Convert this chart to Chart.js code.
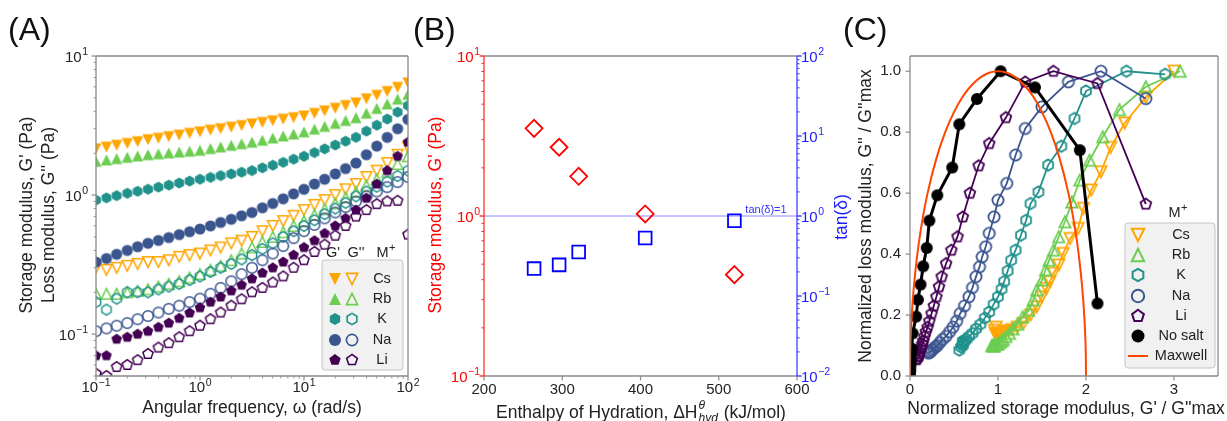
<!DOCTYPE html>
<html>
<head>
<meta charset="utf-8">
<script src="https://cdn.jsdelivr.net/npm/chart.js@4.4.0/dist/chart.umd.min.js"></script>
<style>
  html, body { margin: 0; padding: 0; background: #fff; }
  #wrap { position: relative; width: 1227px; height: 421px; overflow: hidden; }
  #wrap canvas { position: absolute; left: 0; top: 0; }
</style>
</head>
<body>
<div id="wrap">
  <canvas id="chartA" width="1227" height="421"></canvas>
  <canvas id="chartB" width="1227" height="421"></canvas>
  <canvas id="chartC" width="1227" height="421"></canvas>
</div>
<script>
var FONT = '"Liberation Sans", Arial, Helvetica, sans-serif';
Chart.defaults.font.family = FONT;
Chart.defaults.font.size = 15;
Chart.defaults.color = '#222';

// ---------- Panel A: frequency sweep (rad/s) and moduli (Pa) ----------
var omega = [0.1, 0.126, 0.158, 0.2, 0.251, 0.316, 0.398, 0.501, 0.631, 0.794, 1, 1.26, 1.58, 2, 2.51, 3.16, 3.98, 5.01, 6.31, 7.94, 10, 12.6, 15.8, 20, 25.1, 31.6, 39.8, 50.1, 63.1, 79.4, 100];

var csStorage = [2.15, 2.21, 2.28, 2.35, 2.42, 2.5, 2.56, 2.63, 2.7, 2.78, 2.85, 2.93, 3.0, 3.08, 3.16, 3.25, 3.33, 3.42, 3.51, 3.6, 3.7, 3.86, 4.03, 4.21, 4.4, 4.6, 4.92, 5.22, 5.55, 5.95, 6.4];
var rbStorage = [1.75, 1.79, 1.83, 1.87, 1.91, 1.95, 1.98, 2.01, 2.04, 2.07, 2.1, 2.16, 2.22, 2.28, 2.34, 2.4, 2.48, 2.57, 2.66, 2.75, 2.85, 2.98, 3.12, 3.28, 3.44, 3.6, 3.88, 4.2, 4.52, 4.9, 5.3];
var kStorage  = [0.92, 0.955, 0.99, 1.03, 1.065, 1.1, 1.14, 1.18, 1.22, 1.26, 1.3, 1.34, 1.38, 1.42, 1.46, 1.5, 1.57, 1.64, 1.72, 1.81, 1.9, 2.02, 2.15, 2.29, 2.44, 2.6, 2.88, 3.18, 3.52, 3.95, 4.4];
var naStorage = [0.33, 0.35, 0.375, 0.4, 0.425, 0.45, 0.472, 0.495, 0.52, 0.545, 0.57, 0.6, 0.635, 0.67, 0.71, 0.75, 0.81, 0.87, 0.94, 1.02, 1.1, 1.2, 1.3, 1.42, 1.55, 1.7, 1.95, 2.25, 2.6, 3.0, 3.5];
var liStorage = [0.07, 0.07, 0.092, 0.095, 0.1, 0.105, 0.112, 0.12, 0.13, 0.142, 0.155, 0.17, 0.185, 0.205, 0.225, 0.25, 0.275, 0.3, 0.33, 0.37, 0.42, 0.47, 0.53, 0.6, 0.68, 0.78, 0.95, 1.2, 1.5, 1.9, 2.4];

var csLoss = [0.30, 0.29, 0.30, 0.31, 0.32, 0.33, 0.33, 0.34, 0.36, 0.37, 0.38, 0.40, 0.42, 0.45, 0.47, 0.50, 0.55, 0.60, 0.65, 0.71, 0.78, 0.85, 0.92, 1.0, 1.1, 1.2, 1.35, 1.5, 1.7, 1.95, 2.2];
var rbLoss = [0.195, 0.195, 0.195, 0.2, 0.205, 0.21, 0.22, 0.23, 0.24, 0.255, 0.27, 0.29, 0.31, 0.34, 0.38, 0.42, 0.46, 0.5, 0.54, 0.6, 0.65, 0.72, 0.79, 0.87, 0.96, 1.05, 1.17, 1.3, 1.47, 1.67, 1.9];
var kLoss  = [0.17, 0.15, 0.18, 0.2, 0.2, 0.2, 0.21, 0.22, 0.23, 0.245, 0.26, 0.28, 0.3, 0.32, 0.345, 0.37, 0.41, 0.45, 0.5, 0.55, 0.6, 0.66, 0.73, 0.8, 0.88, 0.98, 1.06, 1.15, 1.25, 1.37, 1.5];
var naLoss = [0.105, 0.11, 0.115, 0.12, 0.128, 0.135, 0.143, 0.152, 0.16, 0.17, 0.18, 0.195, 0.215, 0.24, 0.27, 0.3, 0.34, 0.38, 0.43, 0.49, 0.55, 0.61, 0.68, 0.75, 0.82, 0.9, 0.98, 1.06, 1.14, 1.24, 1.35];
var liLoss = [0.052, 0.05, 0.058, 0.06, 0.065, 0.072, 0.08, 0.086, 0.095, 0.105, 0.115, 0.128, 0.143, 0.16, 0.178, 0.2, 0.215, 0.235, 0.26, 0.3, 0.34, 0.39, 0.44, 0.51, 0.6, 0.7, 0.78, 0.86, 0.9, 0.91, 0.52];

// ---------- Panel B: hydration enthalpy (kJ/mol) ----------
var hydEnthalpy = [264, 296, 321, 406, 520];        // Cs, Rb, K, Na, Li
var storageModulus = [3.53, 2.69, 1.77, 1.03, 0.43];
var tanDelta = [0.22, 0.245, 0.355, 0.53, 0.87];
var tanOneX = [200, 600];
var tanOneY = [1, 1];

// ---------- Panel C: normalized G' / G''max and G'' / G''max ----------
var csNormX = [0.98, 0.96, 0.97, 0.98, 0.99, 1.0, 1.02, 1.04, 1.06, 1.09, 1.12, 1.16, 1.22, 1.29, 1.37, 1.44, 1.50, 1.55, 1.59, 1.63, 1.69, 1.74, 1.82, 1.91, 1.97, 2.06, 2.17, 2.28, 2.44, 2.68, 3.0];
var csNormY = [0.16, 0.15, 0.14, 0.135, 0.135, 0.14, 0.14, 0.14, 0.145, 0.145, 0.148, 0.152, 0.16, 0.173, 0.2, 0.227, 0.26, 0.287, 0.31, 0.337, 0.364, 0.402, 0.451, 0.484, 0.55, 0.61, 0.67, 0.75, 0.83, 0.915, 1.0];
var rbNormX = [0.93, 0.94, 0.95, 0.95, 0.96, 0.98, 1.0, 1.02, 1.04, 1.06, 1.09, 1.13, 1.17, 1.22, 1.28, 1.35, 1.40, 1.44, 1.50, 1.54, 1.58, 1.63, 1.69, 1.76, 1.84, 1.93, 2.04, 2.19, 2.38, 2.68, 3.07];
var rbNormY = [0.1, 0.1, 0.1, 0.1, 0.1, 0.105, 0.105, 0.11, 0.115, 0.12, 0.13, 0.14, 0.155, 0.17, 0.194, 0.216, 0.25, 0.282, 0.315, 0.348, 0.38, 0.413, 0.457, 0.506, 0.571, 0.643, 0.708, 0.785, 0.874, 0.949, 1.0];
var kNormX = [0.6, 0.56, 0.58, 0.6, 0.6, 0.61, 0.62, 0.64, 0.67, 0.71, 0.75, 0.8, 0.85, 0.9, 0.95, 1.0, 1.04, 1.07, 1.11, 1.15, 1.2, 1.26, 1.32, 1.37, 1.46, 1.57, 1.72, 1.87, 2.0, 2.46, 2.9];
var kNormY = [0.115, 0.085, 0.095, 0.1, 0.105, 0.11, 0.115, 0.12, 0.13, 0.14, 0.155, 0.17, 0.19, 0.21, 0.235, 0.26, 0.285, 0.31, 0.345, 0.38, 0.413, 0.462, 0.511, 0.566, 0.604, 0.692, 0.754, 0.845, 0.935, 1.0, 0.99];
var naNormX = [0.21, 0.22, 0.235, 0.25, 0.27, 0.29, 0.31, 0.34, 0.37, 0.41, 0.45, 0.49, 0.53, 0.57, 0.62, 0.67, 0.71, 0.75, 0.79, 0.82, 0.86, 0.90, 0.955, 1.0, 1.10, 1.20, 1.31, 1.50, 1.80, 2.17, 2.68];
var naNormY = [0.075, 0.078, 0.08, 0.085, 0.09, 0.095, 0.1, 0.11, 0.12, 0.13, 0.145, 0.16, 0.18, 0.205, 0.23, 0.26, 0.29, 0.326, 0.358, 0.391, 0.424, 0.468, 0.522, 0.577, 0.632, 0.725, 0.812, 0.883, 0.965, 1.0, 0.91];
var liNormX = [0.075, 0.075, 0.098, 0.1, 0.105, 0.11, 0.12, 0.13, 0.14, 0.15, 0.165, 0.18, 0.2, 0.22, 0.245, 0.27, 0.30, 0.33, 0.36, 0.41, 0.47, 0.54, 0.60, 0.68, 0.78, 0.90, 1.09, 1.31, 1.63, 2.13, 2.68];
var liNormY = [0.056, 0.054, 0.063, 0.066, 0.072, 0.08, 0.088, 0.095, 0.105, 0.115, 0.13, 0.145, 0.16, 0.18, 0.205, 0.23, 0.26, 0.293, 0.326, 0.369, 0.413, 0.457, 0.522, 0.60, 0.69, 0.763, 0.848, 0.965, 1.0, 0.96, 0.564];
var noSaltX = [0.0, 0.0, 0.003, 0.005, 0.008, 0.01, 0.02, 0.03, 0.07, 0.09, 0.12, 0.15, 0.19, 0.22, 0.31, 0.48, 0.56, 0.76, 1.03, 1.42, 1.93, 2.13];
var noSaltY = [0.0, 0.01, 0.02, 0.035, 0.05, 0.07, 0.09, 0.14, 0.195, 0.25, 0.30, 0.36, 0.42, 0.51, 0.593, 0.684, 0.826, 0.909, 1.0, 0.947, 0.741, 0.238];
var maxwellX = [0, 0.002, 0.01, 0.03, 0.06, 0.1, 0.15, 0.2, 0.3, 0.4, 0.5, 0.6, 0.7, 0.8, 0.9, 1.0, 1.1, 1.2, 1.3, 1.4, 1.5, 1.6, 1.7, 1.8, 1.85, 1.9, 1.94, 1.97, 1.99, 1.998, 2.0];
var maxwellY = [0, 0.063, 0.141, 0.243, 0.341, 0.436, 0.527, 0.6, 0.714, 0.8, 0.866, 0.917, 0.954, 0.98, 0.995, 1.0, 0.995, 0.98, 0.954, 0.917, 0.866, 0.8, 0.714, 0.6, 0.527, 0.436, 0.341, 0.243, 0.141, 0.063, 0];

// categories and tick labels
var salts = ['Cs', 'Rb', 'K', 'Na', 'Li'];
var decadeValues = [0.01, 0.1, 1, 10, 100];
var decadeLabels = ['10^-2', '10^-1', '10^0', '10^1', '10^2'];
var decadeExps = ['\u22122', '\u22121', '0', '1', '2'];
var cXTicks = ['0', '1', '2', '3'];
var cYTicks = ['0.0', '0.2', '0.4', '0.6', '0.8', '1.0'];

// styles
var saltColors = ['#ffa500', '#6ccd50', '#21918c', '#3b558f', '#440154'];
var saltShapes = ['triDown', 'triUp', 'hex', 'circle', 'pent'];
var frameGray = '#8a8a8a';
var clear = 'rgba(0,0,0,0)';

function decadeIndex(v) {
  for (var i = 0; i < decadeValues.length; i++) {
    if (Math.abs(v / decadeValues[i] - 1) < 1e-6) return i;
  }
  return -1;
}
function decadeTick(v) {
  var i = decadeIndex(v);
  return i < 0 ? '' : decadeLabels[i];
}

function logTicks(scale) {
  var out = [];
  for (var e = Math.floor(Math.log10(scale.min)); e <= Math.ceil(Math.log10(scale.max)); e++) {
    for (var m = 1; m <= 9; m++) {
      var v = +(m * Math.pow(10, e)).toPrecision(6);
      if (v >= scale.min * 0.9999 && v <= scale.max * 1.0001) out.push({ value: v });
    }
  }
  scale.ticks = out;
}

function shapePath(g, shape, x, y, r) {
  g.beginPath();
  if (shape === 'circle') { g.arc(x, y, r, 0, Math.PI * 2); return; }
  if (shape === 'triDown') { g.moveTo(x, y + r); g.lineTo(x - r, y - r); g.lineTo(x + r, y - r); g.closePath(); return; }
  if (shape === 'triUp') { g.moveTo(x, y - r); g.lineTo(x - r, y + r); g.lineTo(x + r, y + r); g.closePath(); return; }
  var n = shape === 'hex' ? 6 : 5;
  for (var k = 0; k < n; k++) {
    var a = -Math.PI / 2 + k * 2 * Math.PI / n;
    var px = x + r * Math.cos(a), py = y + r * Math.sin(a);
    if (k) g.lineTo(px, py); else g.moveTo(px, py);
  }
  g.closePath();
}

function drawMarker(g, shape, x, y, r, color, filled, lw) {
  shapePath(g, shape, x, y, r);
  if (filled) { g.fillStyle = color; g.fill(); }
  else { g.strokeStyle = color; g.lineWidth = lw; g.stroke(); }
}

function markerImg(shape, r, color, filled, lw) {
  var s = Math.ceil(2 * r + (lw || 1) + 4);
  if (s % 2) s++;
  var c = document.createElement('canvas');
  c.width = c.height = s;
  drawMarker(c.getContext('2d'), shape, s / 2, s / 2, r, color, filled, lw);
  return c;
}

function roundBox(g, x, y, w, h, rad, fill, stroke) {
  g.beginPath();
  g.moveTo(x + rad, y);
  g.arcTo(x + w, y, x + w, y + h, rad);
  g.arcTo(x + w, y + h, x, y + h, rad);
  g.arcTo(x, y + h, x, y, rad);
  g.arcTo(x, y, x + w, y, rad);
  g.closePath();
  g.fillStyle = fill; g.fill();
  g.strokeStyle = stroke; g.lineWidth = 1; g.stroke();
}

function rotText(g, text, x, y, color, font) {
  g.save();
  g.translate(x, y);
  g.rotate(-Math.PI / 2);
  g.font = font; g.fillStyle = color;
  g.textAlign = 'center'; g.textBaseline = 'middle';
  g.fillText(text, 0, 0);
  g.restore();
}

function plainText(g, text, x, y, color, font, align) {
  g.font = font; g.fillStyle = color;
  g.textAlign = align || 'center'; g.textBaseline = 'alphabetic';
  g.fillText(text, x, y);
}

// base text followed by a raised smaller part, e.g. 10 with exponent
function supText(g, base, sup, x, y, align, color, size, supSize, rise) {
  g.font = size + 'px ' + FONT;
  var w1 = g.measureText(base).width;
  g.font = supSize + 'px ' + FONT;
  var w2 = g.measureText(sup).width;
  var total = w1 + w2 + 0.5;
  var x0 = align === 'right' ? x - total : (align === 'left' ? x : x - total / 2);
  g.fillStyle = color; g.textAlign = 'left'; g.textBaseline = 'alphabetic';
  g.font = size + 'px ' + FONT; g.fillText(base, x0, y);
  g.font = supSize + 'px ' + FONT; g.fillText(sup, x0 + w1 + 0.5, y - rise);
}

// plugins
function tickMarks(axes) {
  return {
    id: 'tickMarks',
    afterDatasetsDraw: function (chart) {
      var g = chart.ctx;
      axes.forEach(function (a) {
        var sc = chart.scales[a.id];
        g.save();
        sc.ticks.forEach(function (t) {
          var major = t.label !== '' && t.label != null;
          if (!major && !a.minor) return;
          var len = major ? 4.5 : 2.5;
          g.strokeStyle = a.color;
          g.lineWidth = major ? 1.2 : 0.9;
          var p = sc.getPixelForValue(t.value);
          g.beginPath();
          if (sc.position === 'bottom') { g.moveTo(p, sc.top); g.lineTo(p, sc.top + len); }
          else if (sc.position === 'left') { g.moveTo(sc.right, p); g.lineTo(sc.right - len, p); }
          else { g.moveTo(sc.left, p); g.lineTo(sc.left + len, p); }
          g.stroke();
          if (major && a.sup) {
            var exp = decadeExps[decadeIndex(t.value)];
            if (sc.position === 'bottom') supText(g, '10', exp, p, sc.top + 16, 'center', a.textColor, 15, 10.5, 6.5);
            else if (sc.position === 'left') supText(g, '10', exp, sc.right - a.gap, p + 5.5, 'right', a.textColor, 15, 10.5, 6.5);
            else supText(g, '10', exp, sc.left + a.gap, p + 5.5, 'left', a.textColor, 15, 10.5, 6.5);
          }
        });
        g.restore();
      });
    }
  };
}

function frame(c) {
  return {
    id: 'frame',
    afterDatasetsDraw: function (chart) {
      var a = chart.chartArea, g = chart.ctx;
      g.save();
      g.lineWidth = 1.3;
      function seg(col, x1, y1, x2, y2) { g.strokeStyle = col; g.beginPath(); g.moveTo(x1, y1); g.lineTo(x2, y2); g.stroke(); }
      seg(c.top, a.left, a.top, a.right, a.top);
      seg(c.bottom, a.left, a.bottom, a.right, a.bottom);
      seg(c.left, a.left, a.top, a.left, a.bottom);
      seg(c.right, a.right, a.top, a.right, a.bottom);
      g.restore();
    }
  };
}

function overlay(fn) {
  return { id: 'overlay', afterDraw: function (chart) { var g = chart.ctx; g.save(); fn(g, chart); g.restore(); } };
}

function pts(xs, ys) {
  return xs.map(function (x, i) { return { x: x, y: ys[i] }; });
}

function axisBase(extra) {
  var o = {
    grid: { display: false, drawTicks: false },
    border: { display: false },
    ticks: { autoSkip: false, maxRotation: 0, minRotation: 0, color: '#222', font: { size: 15 } }
  };
  for (var k in extra) {
    if (k === 'ticks') { for (var t in extra.ticks) o.ticks[t] = extra.ticks[t]; }
    else o[k] = extra[k];
  }
  return o;
}

function baseOptions(padding, scales) {
  return {
    animation: false, responsive: false, events: [],
    layout: { padding: padding },
    plugins: { legend: { display: false }, tooltip: { enabled: false } },
    scales: scales
  };
}

// ================= Chart A =================
var storageSets = [csStorage, rbStorage, kStorage, naStorage, liStorage];
var lossSets = [csLoss, rbLoss, kLoss, naLoss, liLoss];
var aDatasets = [];
for (var k = salts.length - 1; k >= 0; k--) {
  aDatasets.push({ label: salts[k] + " G''", data: pts(omega, lossSets[k]), pointStyle: markerImg(saltShapes[k], 5.3, saltColors[k], false, 1.5), pointRadius: 5, showLine: false });
  aDatasets.push({ label: salts[k] + " G'", data: pts(omega, storageSets[k]), pointStyle: markerImg(saltShapes[k], 5.6, saltColors[k], true), pointRadius: 5, showLine: false });
}

new Chart(document.getElementById('chartA'), {
  type: 'scatter',
  data: { datasets: aDatasets },
  options: baseOptions({ left: 0, top: 56, right: 819, bottom: 0 }, {
    x: axisBase({ type: 'logarithmic', min: 0.1, max: 100, afterBuildTicks: logTicks,
      ticks: { padding: 3, color: clear, callback: decadeTick },
      afterFit: function (s) { s.height = 45; s.paddingLeft = 0; s.paddingRight = 0; } }),
    y: axisBase({ type: 'logarithmic', min: 0.05, max: 10, afterBuildTicks: logTicks,
      ticks: { padding: 8, color: clear, callback: decadeTick },
      afterFit: function (s) { s.width = 96; s.paddingTop = 0; s.paddingBottom = 0; } })
  }),
  plugins: [
    tickMarks([{ id: 'x', color: frameGray, minor: true, sup: true, textColor: '#222' },
               { id: 'y', color: frameGray, minor: true, sup: true, textColor: '#222', gap: 8 }]),
    frame({ top: frameGray, bottom: frameGray, left: frameGray, right: frameGray }),
    overlay(function (g) {
      plainText(g, '(A)', 8, 40, '#111', '32px ' + FONT, 'left');
      plainText(g, 'Angular frequency, \u03C9 (rad/s)', 252, 413, '#222', '17.5px ' + FONT);
      rotText(g, "Storage modulus, G' (Pa)", 27, 215, '#222', '17.5px ' + FONT);
      rotText(g, "Loss modulus, G'' (Pa)", 49, 215, '#222', '17.5px ' + FONT);
      // legend
      g.font = '14.5px ' + FONT; g.fillStyle = '#222'; g.textAlign = 'center'; g.textBaseline = 'alphabetic';
      g.fillText("G'", 333, 257); g.fillText("G''", 356, 257);
      supText(g, 'M', '+', 386, 257, 'center', '#222', 14.5, 11, 6);
      roundBox(g, 322, 260, 81, 110, 3, 'rgba(240,240,240,0.92)', '#c4c4c4');
      var rows = [279, 299, 319, 340, 360];
      salts.forEach(function (s, i) {
        drawMarker(g, saltShapes[i], 335, rows[i], 6, saltColors[i], true);
        drawMarker(g, saltShapes[i], 352, rows[i], 5.6, saltColors[i], false, 1.6);
        g.font = '14.5px ' + FONT; g.fillStyle = '#222'; g.textAlign = 'center'; g.textBaseline = 'middle';
        g.fillText(s, 382, rows[i]);
      });
    })
  ]
});

// ================= Chart B =================
new Chart(document.getElementById('chartB'), {
  type: 'scatter',
  data: {
    datasets: [
      { label: "G'", data: pts(hydEnthalpy, storageModulus), yAxisID: 'y', pointStyle: 'rectRot', pointRadius: 8.5,
        pointBorderColor: '#ff0000', pointBackgroundColor: clear, pointBorderWidth: 1.8, showLine: false },
      { label: 'tan', data: pts(hydEnthalpy, tanDelta), yAxisID: 'y2', pointStyle: 'rect', pointRadius: 9,
        pointBorderColor: '#0000ff', pointBackgroundColor: clear, pointBorderWidth: 1.8, showLine: false },
      { label: 'tan=1', data: pts(tanOneX, tanOneY), yAxisID: 'y2', showLine: true, pointRadius: 0,
        borderColor: 'rgba(90,90,255,0.7)', borderWidth: 1 }
    ]
  },
  options: baseOptions({ left: 420, top: 56, right: 380, bottom: 0 }, {
    x: axisBase({ type: 'linear', min: 200, max: 600,
      ticks: { padding: 5, stepSize: 100, includeBounds: false },
      afterFit: function (s) { s.height = 45; s.paddingLeft = 0; s.paddingRight = 0; } }),
    y: axisBase({ type: 'logarithmic', position: 'left', min: 0.1, max: 10, afterBuildTicks: logTicks,
      ticks: { padding: 5, color: clear, callback: decadeTick },
      afterFit: function (s) { s.width = 64; s.paddingTop = 0; s.paddingBottom = 0; } }),
    y2: axisBase({ type: 'logarithmic', position: 'right', min: 0.01, max: 100, afterBuildTicks: logTicks,
      ticks: { padding: 5, color: clear, callback: decadeTick },
      afterFit: function (s) { s.width = 50; s.paddingTop = 0; s.paddingBottom = 0; } })
  }),
  plugins: [
    tickMarks([{ id: 'x', color: frameGray },
               { id: 'y', color: '#ff0000', minor: true, sup: true, textColor: '#ff0000', gap: 4 },
               { id: 'y2', color: '#1a1aff', minor: true, sup: true, textColor: '#1a1aff', gap: 4 }]),
    frame({ top: frameGray, bottom: frameGray, left: '#ff3030', right: '#4040ff' }),
    overlay(function (g) {
      plainText(g, '(B)', 413, 40, '#111', '32px ' + FONT, 'left');
      rotText(g, "Storage modulus, G' (Pa)", 436, 215, '#ff0000', '17.5px ' + FONT);
      rotText(g, 'tan(\u03B4)', 842, 217, '#1a1aff', '17.5px ' + FONT);
      plainText(g, 'tan(\u03B4)=1', 766, 213, '#3030ff', '11px ' + FONT);
      // x title with super/subscript
      var big = '17.5px ' + FONT, small = 'italic 12px ' + FONT;
      var a = 'Enthalpy of Hydration, \u0394H', b = ' (kJ/mol)';
      g.font = big;
      var wa = g.measureText(a).width, wb = g.measureText(b).width;
      g.font = small;
      var ws = Math.max(g.measureText('\u03B8').width, g.measureText('hyd').width);
      var x = 641 - (wa + ws + wb + 2) / 2, y = 418;
      g.fillStyle = '#222'; g.textAlign = 'left'; g.textBaseline = 'alphabetic';
      g.font = big; g.fillText(a, x, y); x += wa;
      g.font = small; g.fillText('\u03B8', x + 1, y - 9); g.fillText('hyd', x + 1, y + 4);
      x += ws + 2;
      g.font = big; g.fillText(b, x, y);
    })
  ]
});

// ================= Chart C =================
var normX = [csNormX, rbNormX, kNormX, naNormX, liNormX];
var normY = [csNormY, rbNormY, kNormY, naNormY, liNormY];
var cDatasets = [
  { label: 'Maxwell', data: pts(maxwellX, maxwellY), showLine: true, pointRadius: 0, borderColor: '#ff4500', borderWidth: 2,
    tension: 0.4, cubicInterpolationMode: 'monotone' },
  { label: 'No salt', data: pts(noSaltX, noSaltY), showLine: true, borderColor: '#000', borderWidth: 3,
    pointStyle: markerImg('circle', 6, '#000', true), pointRadius: 6 }
];
for (var j = salts.length - 1; j >= 0; j--) {
  cDatasets.push({ label: salts[j], data: pts(normX[j], normY[j]), showLine: true, borderColor: saltColors[j], borderWidth: 1.8,
    pointStyle: markerImg(saltShapes[j], 5.6, saltColors[j], false, 1.8), pointRadius: 6 });
}

new Chart(document.getElementById('chartC'), {
  type: 'scatter',
  data: { datasets: cDatasets },
  options: baseOptions({ left: 840, top: 56, right: 5, bottom: 0 }, {
    x: axisBase({ type: 'linear', min: 0, max: 3.5,
      ticks: { padding: 5, stepSize: 1, includeBounds: false, callback: function (v) { return cXTicks[Math.round(v)] || ''; } },
      afterFit: function (s) { s.height = 45; s.paddingLeft = 0; s.paddingRight = 0; } }),
    y: axisBase({ type: 'linear', min: 0, max: 1.05,
      ticks: { padding: 9, stepSize: 0.2, includeBounds: false, callback: function (v) { return cYTicks[Math.round(v / 0.2)] || ''; } },
      afterFit: function (s) { s.width = 70; s.paddingTop = 0; s.paddingBottom = 0; } })
  }),
  plugins: [
    tickMarks([{ id: 'x', color: frameGray }, { id: 'y', color: frameGray }]),
    frame({ top: frameGray, bottom: frameGray, left: frameGray, right: frameGray }),
    overlay(function (g) {
      plainText(g, '(C)', 843, 40, '#111', '32px ' + FONT, 'left');
      plainText(g, "Normalized storage modulus, G' / G''max", 1066, 414, '#222', '17.5px ' + FONT);
      rotText(g, "Normalized loss modulus, G'' / G''max", 866, 216, '#222', '17.5px ' + FONT);
      // legend
      supText(g, 'M', '+', 1178, 217, 'center', '#222', 14.5, 11, 6);
      roundBox(g, 1125, 223, 90, 145, 3, 'rgba(240,240,240,0.92)', '#c4c4c4');
      var rows = [235, 255, 275, 296, 316, 336, 356];
      g.font = '14.5px ' + FONT;
      salts.forEach(function (s, i) {
        drawMarker(g, saltShapes[i], 1138, rows[i], 6.2, saltColors[i], false, 2);
        g.fillStyle = '#222'; g.textAlign = 'center'; g.textBaseline = 'middle';
        g.fillText(s, 1181, rows[i]);
      });
      drawMarker(g, 'circle', 1138, rows[5], 6.5, '#000', true);
      g.strokeStyle = '#ff4500'; g.lineWidth = 2;
      g.beginPath(); g.moveTo(1128, rows[6]); g.lineTo(1148, rows[6]); g.stroke();
      g.fillStyle = '#222';
      g.fillText('No salt', 1181, rows[5]);
      g.fillText('Maxwell', 1181, rows[6]);
    })
  ]
});
</script>
</body>
</html>
